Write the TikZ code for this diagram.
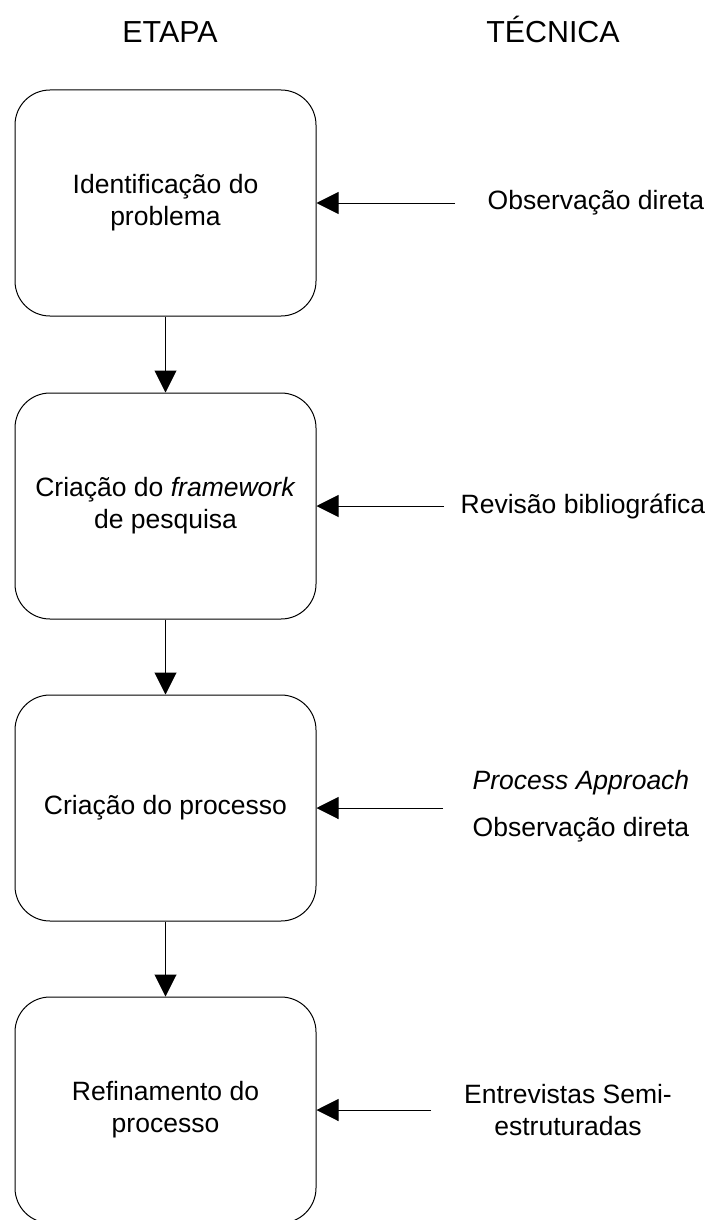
\documentclass[tikz,border=0pt]{standalone}
\usepackage{fontspec}
\setmainfont{Liberation Sans}
\usetikzlibrary{
    arrows.meta,
    positioning
}

\begin{document}
\begin{tikzpicture}[x=0.5pt,y=-0.5pt,
    etapa/.style={draw, line width=0.5pt, rounded corners=17.5pt, minimum width=150.5pt, minimum height=113pt, align=center, font=\fontsize{13.25}{16}\selectfont},
    tecnica/.style={align=center, font=\fontsize{13.25}{16}\selectfont},
    titulo/.style={anchor=base, font=\fontsize{15.2}{18}\selectfont},
    seta/.style={-{Triangle[width=11pt,length=11pt]}, line width=0.5pt}]
                        \useasboundingbox (0,0) rectangle (709,1220);
                        \clip (0,0) rectangle (709,1220);

                        \node[titulo] (tetapa) at (170,43) {ETAPA};
                        \node[titulo] (ttecnica) at (553,43) {TÉCNICA};

                        \node[etapa] (e1) at (165.5,203) {Identificação do\\problema};
                        \node[etapa] (e2) at (165.5,506) {Criação do \textit{framework}\\de pesquisa};
                        \node[etapa] (e3) at (165.5,808) {Criação do processo};
                        \node[etapa] (e4) at (165.5,1110) {Refinamento do\\processo};

                        \node[tecnica] (t1) at (596,203) {Observação direta};
                        \node[tecnica] (t2) at (583,506) {Revisão bibliográfica};
                        \node[tecnica] (t3a) at (581,783) {\textit{Process Approach}};
                        \node[tecnica] (t3b) at (581,830) {Observação direta};
                        \node[tecnica] (t4) at (568,1110) {Entrevistas Semi-\\estruturadas};

                        \coordinate (c1) at (455,203);
                        \coordinate (c2) at (444,506);
                        \coordinate (c3) at (443,808);
                        \coordinate (c4) at (431,1110);

                        \draw[seta] (e1) -- (e2);
                        \draw[seta] (e2) -- (e3);
                        \draw[seta] (e3) -- (e4);

                        \draw[seta] (c1) -- (e1);
                        \draw[seta] (c2) -- (e2);
                        \draw[seta] (c3) -- (e3);
                        \draw[seta] (c4) -- (e4);
                    \end{tikzpicture}
\end{document}
